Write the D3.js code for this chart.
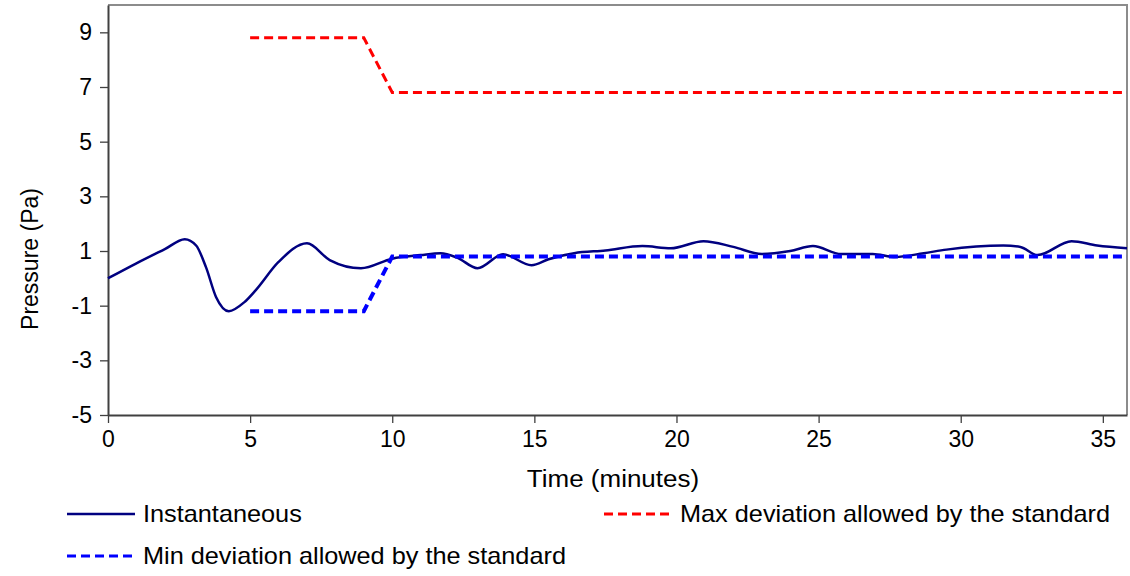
<!DOCTYPE html>
<html>
<head>
<meta charset="utf-8">
<script src="https://cdn.jsdelivr.net/npm/d3@7"></script>
<style>
  body { margin: 0; background: #fff; }
  text { font-family: "Liberation Sans", Arial, sans-serif; fill: #000; }
</style>
</head>
<body>
<script>
// instantaneous pressure readings (time in minutes, Pa)
var instTime = [0, 1, 2, 2.7, 3.1, 3.45, 3.8, 4.25, 4.8, 5.2, 6, 7, 7.8, 8.9, 10, 11, 11.7, 12.3, 13, 13.9,
                14.9, 15.5, 16.4, 17.5, 18.8, 19.8, 20.95, 22, 23, 24, 24.8, 25.8, 26.9, 27.7, 28.7, 29.5,
                31.5, 32.1, 32.7, 33.9, 34.8, 35.85]
var instValue = [0, 0.55, 1.07, 1.43, 1.2, 0.4, -0.68, -1.2, -0.87, -0.43, 0.6, 1.28, 0.67, 0.37, 0.72, 0.85, 0.92, 0.75, 0.37, 0.88,
                 0.48, 0.7, 0.92, 1.02, 1.18, 1.1, 1.36, 1.15, 0.89, 1.0, 1.18, 0.89, 0.89, 0.78, 0.92, 1.05,
                 1.2, 1.15, 0.85, 1.36, 1.2, 1.1]

var limitTime = [5, 9, 10, 35.85]
var maxLimit = [8.8, 8.8, 6.8, 6.8]
var minLimit = [-1.2, -1.2, 0.8, 0.8]

var xTicks = [0, 5, 10, 15, 20, 25, 30, 35]
var yTicks = [-5, -3, -1, 1, 3, 5, 7, 9]

var width = 1130
var height = 576

var padLeft = 108, padRight = 1127, padTop = 5, padBottom = 415

var svg = d3.select("body")
            .append("svg")
            .attr("width", width)
            .attr("height", height)

var xScale = d3.scaleLinear()
               .domain([0, 35.85])
               .range([padLeft, padRight])

var yScale = d3.scaleLinear()
               .domain([-5, 10])
               .range([padBottom, padTop])

// plot border (top and right in grey)
svg.append("path")
   .attr("d", "M" + padLeft + "," + padTop + "H" + padRight + "V" + padBottom)
   .attr("fill", "none")
   .attr("stroke", "#8c8c8c")
   .attr("stroke-width", 2)

var xAxis = d3.axisBottom(xScale)
              .tickValues(xTicks)
              .tickFormat(String)
              .tickSize(8)
              .tickSizeOuter(0)
              .tickPadding(8)

var yAxis = d3.axisLeft(yScale)
              .tickValues(yTicks)
              .tickFormat(String)
              .tickSize(8)
              .tickSizeOuter(0)
              .tickPadding(8)

var gx = svg.append("g")
   .attr("transform", "translate(0," + padBottom + ")")
   .call(xAxis)

var gy = svg.append("g")
   .attr("transform", "translate(" + padLeft + ",0)")
   .call(yAxis)

;[gx, gy].forEach(function(g){
  g.select(".domain").attr("stroke", "#404040").attr("stroke-width", 2)
  g.selectAll(".tick line").attr("stroke", "#404040").attr("stroke-width", 1.3)
  g.selectAll(".tick text")
   .attr("font-family", "Liberation Sans, Arial, sans-serif")
   .attr("font-size", 23)
   .attr("fill", "#000")
})

svg.append("text")
   .attr("transform", "translate(613,487) scale(1.13,1)")
   .attr("text-anchor", "middle")
   .attr("font-size", 23)
   .text("Time (minutes)")

svg.append("text")
   .attr("transform", "translate(38,259) rotate(-90)")
   .attr("text-anchor", "middle")
   .attr("font-size", 23)
   .text("Pressure (Pa)")

var line = d3.line()
             .x(function(d){ return xScale(d[0]) })
             .y(function(d){ return yScale(d[1]) })

var smooth = d3.line()
               .curve(d3.curveMonotoneX)
               .x(function(d){ return xScale(d[0]) })
               .y(function(d){ return yScale(d[1]) })

svg.append("path")
   .datum(limitTime.map(function(t, i){ return [t, maxLimit[i]] }))
   .attr("d", line)
   .attr("fill", "none")
   .attr("stroke", "#ff0000")
   .attr("stroke-width", 3)
   .attr("stroke-dasharray", "9,5")

svg.append("path")
   .datum(instTime.map(function(t, i){ return [t, instValue[i]] }))
   .attr("d", smooth)
   .attr("fill", "none")
   .attr("stroke", "#000080")
   .attr("stroke-width", 2.5)

svg.append("path")
   .datum(limitTime.map(function(t, i){ return [t, minLimit[i]] }))
   .attr("d", line)
   .attr("fill", "none")
   .attr("stroke", "#0000ff")
   .attr("stroke-width", 4)
   .attr("stroke-dasharray", "9,5")

// legend
var legend = [
  {label: "Instantaneous", color: "#000080", dash: null, w: 2.5, x: 67, y: 514},
  {label: "Max deviation allowed by the standard", color: "#ff0000", dash: "9,5", w: 3, x: 604, y: 514},
  {label: "Min deviation allowed by the standard", color: "#0000ff", dash: "9,5", w: 3, x: 67, y: 556}
]

var lg = svg.selectAll(".legend")
            .data(legend)
            .enter()
            .append("g")
            .attr("class", "legend")
            .attr("transform", function(d){ return "translate(" + d.x + "," + d.y + ")" })

lg.append("line")
  .attr("x1", 0)
  .attr("x2", 68)
  .attr("stroke", function(d){ return d.color })
  .attr("stroke-width", function(d){ return d.w })
  .attr("stroke-dasharray", function(d){ return d.dash })

lg.append("text")
  .attr("transform", "translate(76,8) scale(1.1,1)")
  .attr("font-size", 23)
  .text(function(d){ return d.label })
</script>
</body>
</html>
